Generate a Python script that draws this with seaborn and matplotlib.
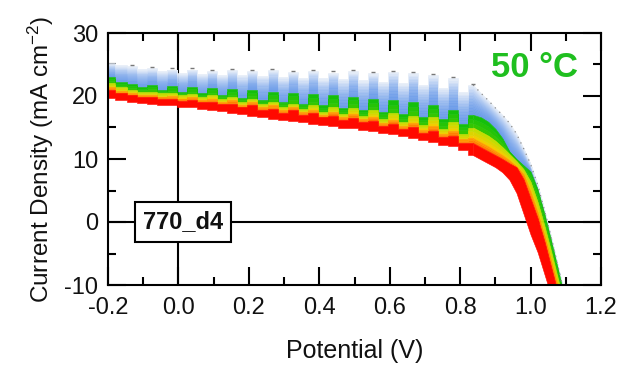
import numpy as np
import matplotlib
matplotlib.use("Agg")
import matplotlib.pyplot as plt
import matplotlib.colors as mcolors
from matplotlib.ticker import MultipleLocator, FormatStrFormatter
import seaborn as sns

# ---------------- data ----------------
# potential grid: striped (column / gap) region up to 0.837 V, then the knee / drop
V = [-0.200, -0.161, -0.132, -0.104, -0.075, -0.047, -0.018, 0.011, 0.039, 0.068,
     0.096, 0.125, 0.153, 0.182, 0.210, 0.239, 0.267, 0.296, 0.324, 0.353,
     0.381, 0.410, 0.438, 0.467, 0.495, 0.524, 0.552, 0.581, 0.609, 0.638,
     0.666, 0.695, 0.723, 0.752, 0.780, 0.809, 0.837,
     0.86, 0.88, 0.90, 0.92, 0.94, 0.96, 0.98, 1.00, 1.02, 1.04, 1.06, 1.08, 1.10, 1.12]
N_STRIPED = 37

# boundaries of the colour bands (current density, mA cm^-2), top to bottom
J_top = [25.2, 24.9, 24.7, 24.3, 24.4, 23.9, 24.2, 23.6, 24.2, 23.5,
         24.0, 23.4, 24.1, 23.3, 24.0, 23.2, 24.1, 23.0, 23.8, 22.9,
         24.0, 22.8, 23.7, 22.7, 23.9, 22.5, 23.6, 22.3, 23.8, 22.0,
         23.6, 21.8, 23.3, 21.3, 22.8, 20.6, 21.75,
         20.4, 19.3, 18.1, 17.0, 15.7, 14.0, 11.7, 9.2, 5.9, 1.7, -2.8, -7.6, -12.4, -17.0]
J_blue_green = [23.0, 22.2, 21.9, 21.4, 21.8, 21.0, 21.6, 20.7, 21.5, 20.4,
                21.3, 20.1, 21.1, 19.7, 20.9, 19.4, 20.7, 19.1, 20.5, 18.8,
                20.3, 18.5, 20.1, 18.1, 19.9, 17.8, 19.6, 17.5, 19.3, 17.1,
                19.0, 16.7, 18.6, 16.3, 17.8, 15.6, 17.0,
                16.6, 15.9, 14.8, 13.3, 11.2, 10.0, 9.0, 8.0, 5.2, 1.2, -3.3, -8.0, -12.8, -17.4]
J_green_yellow = [22.0, 21.4, 21.0, 20.7, 20.7, 20.4, 20.5, 20.1, 20.3, 19.9,
                  20.1, 19.6, 19.8, 19.1, 19.5, 18.7, 19.0, 18.3, 18.8, 17.9,
                  18.5, 17.5, 18.2, 17.1, 18.1, 16.8, 17.7, 16.3, 17.3, 15.9,
                  16.9, 15.4, 16.6, 14.8, 15.8, 14.0, 15.0,
                  14.3, 13.7, 12.9, 11.9, 10.8, 9.7, 8.4, 6.4, 3.2, -0.7, -5.0, -9.5, -14.0, -18.5]
J_yellow_orange = [21.4, 20.8, 20.5, 20.2, 20.2, 19.9, 20.0, 19.6, 19.8, 19.4,
                   19.6, 19.1, 19.3, 18.6, 19.0, 18.2, 18.5, 17.8, 18.2, 17.4,
                   17.8, 17.0, 17.4, 16.6, 17.2, 16.3, 16.7, 15.7, 16.2, 15.2,
                   15.7, 14.6, 15.2, 14.0, 14.5, 13.1, 13.3,
                   12.6, 12.0, 11.3, 10.6, 9.8, 8.8, 7.6, 4.8, 1.5, -2.3, -6.5, -10.8, -15.0, -19.3]
J_orange_red = [21.0, 20.4, 20.1, 19.8, 19.8, 19.5, 19.5, 19.2, 19.3, 19.0,
                19.1, 18.7, 18.8, 18.2, 18.5, 17.8, 18.0, 17.35, 17.7, 17.0,
                17.3, 16.6, 16.9, 16.2, 16.5, 15.9, 16.1, 15.3, 15.6, 14.8,
                15.1, 14.2, 14.5, 13.5, 13.7, 12.6, 12.5,
                11.8, 11.2, 10.6, 10.0, 9.3, 8.7, 6.8, 3.7, 0.6, -3.2, -7.5, -11.8, -16.0, -20.2]
J_bottom = [19.7, 19.3, 19.1, 18.9, 18.8, 18.6, 18.5, 18.3, 18.2, 18.0,
            17.8, 17.6, 17.3, 17.1, 16.9, 16.6, 16.4, 16.2, 16.0, 15.8,
            15.6, 15.4, 15.2, 15.0, 14.9, 14.6, 14.4, 14.1, 13.9, 13.6,
            13.3, 13.0, 12.75, 12.3, 12.0, 11.4, 10.6,
            9.9, 9.3, 8.7, 7.9, 6.7, 4.6, 1.3, -2.0, -4.8, -8.4, -12.0, -15.5, -19.0, -22.5]

x_ticks = [-0.2, 0.0, 0.2, 0.4, 0.6, 0.8, 1.0, 1.2]
y_ticks = [-10, 0, 10, 20, 30]
sample_label = "770_d4"
temperature_label = "50 °C"

# ---------------- style ----------------
sns.set_theme(style="ticks")
plt.rcParams["font.family"] = ["Liberation Sans", "DejaVu Sans"]
plt.rcParams["mathtext.fontset"] = "custom"
plt.rcParams["mathtext.rm"] = "Liberation Sans"
plt.rcParams["mathtext.it"] = "Liberation Sans"
plt.rcParams["axes.unicode_minus"] = False

fig = plt.figure(figsize=(6.24, 3.89), dpi=100)
fig.patch.set_facecolor("white")
ax = fig.add_axes([108 / 624, 1 - 285 / 389, (601 - 108) / 624, (285 - 33) / 389])
ax.set_facecolor("white")

# zero lines (under the curves)
ax.axhline(0, color="black", lw=1.5, zorder=1)
ax.axvline(0, color="black", lw=1.5, zorder=1)

Vx = np.asarray(V)
bands = [  # (upper, lower, colour at upper, colour at lower, sub-steps, gamma)
    (J_top, J_blue_green, "#e9eff8", "#6a9be9", 20, 0.6),
    (J_blue_green, J_green_yellow, "#0dbd0d", "#3cc800", 3, 1.0),
    (J_green_yellow, J_yellow_orange, "#b8e000", "#ffc800", 3, 1.0),
    (J_yellow_orange, J_orange_red, "#ffa200", "#ff6000", 3, 1.0),
    (J_orange_red, J_bottom, "#ff1200", "#ff0000", 1, 1.0),
]


def mix(c1, c2, t):
    a = np.array(mcolors.to_rgb(c1))
    b = np.array(mcolors.to_rgb(c2))
    return tuple(a * (1 - t) + b * t)


for up, lo, cu, cl, n, g in bands:
    up = np.asarray(up)
    lo = np.asarray(lo)
    for i in range(n):
        y0 = lo + (up - lo) * i / n
        y1 = lo + (up - lo) * (i + 1) / n
        col = mix(cl, cu, ((i + 0.5) / n) ** (1 / g))
        s = slice(0, N_STRIPED)
        d = slice(N_STRIPED - 1, None)
        ax.fill_between(Vx[s], y0[s], y1[s], step="mid", color=col,
                        lw=0.4, edgecolor=col, zorder=2)
        ax.fill_between(Vx[d], y0[d], y1[d], color=col,
                        lw=0.4, edgecolor=col, zorder=2)

# small dark specks on the column tops
col_idx = list(range(2, N_STRIPED, 2))
sns.scatterplot(x=[V[i] for i in col_idx], y=[J_top[i] + 0.2 for i in col_idx],
                marker="_", s=10, color="#555555", linewidth=1.0, ax=ax,
                zorder=3, legend=False, alpha=0.8)
ax.plot(Vx[N_STRIPED - 1:], np.asarray(J_top)[N_STRIPED - 1:], ls=(0, (1, 4)),
        color="#8a8a8a", lw=0.9, zorder=3)

# axes
ax.set_xlim(-0.2, 1.2)
ax.set_ylim(-10, 30)
ax.set_xticks(x_ticks)
ax.set_yticks(y_ticks)
ax.xaxis.set_major_formatter(FormatStrFormatter("%.1f"))
ax.xaxis.set_minor_locator(MultipleLocator(0.1))
ax.yaxis.set_minor_locator(MultipleLocator(5))
ax.tick_params(which="both", direction="in", top=True, right=True,
               colors="black", labelcolor="#111111", width=1.5, labelsize=17)
ax.tick_params(which="major", length=13)
ax.tick_params(which="minor", length=6)
ax.tick_params(axis="x", pad=9)
ax.tick_params(axis="y", pad=7)
for sp in ax.spines.values():
    sp.set_color("black")
    sp.set_linewidth(1.5)
    sp.set_zorder(5)

ax.set_xlabel("Potential (V)", fontsize=18, labelpad=14, color="#111111")
ax.set_ylabel("Current Density (mA cm$^{\\mathregular{-2}}$)", fontsize=17.5,
              labelpad=6, color="#111111")

ax.text(0.013, 0.0, sample_label, ha="center", va="center", fontsize=17,
        fontweight="bold", color="#111111", zorder=6,
        bbox=dict(boxstyle="square,pad=0.35", fc="white", ec="black", lw=1.5))
ax.text(1.01, 24.6, temperature_label, ha="center", va="center", fontsize=25,
        fontweight="bold", color="#1fbf1f", zorder=6)

fig.savefig("out.png", dpi=100, facecolor="white")
